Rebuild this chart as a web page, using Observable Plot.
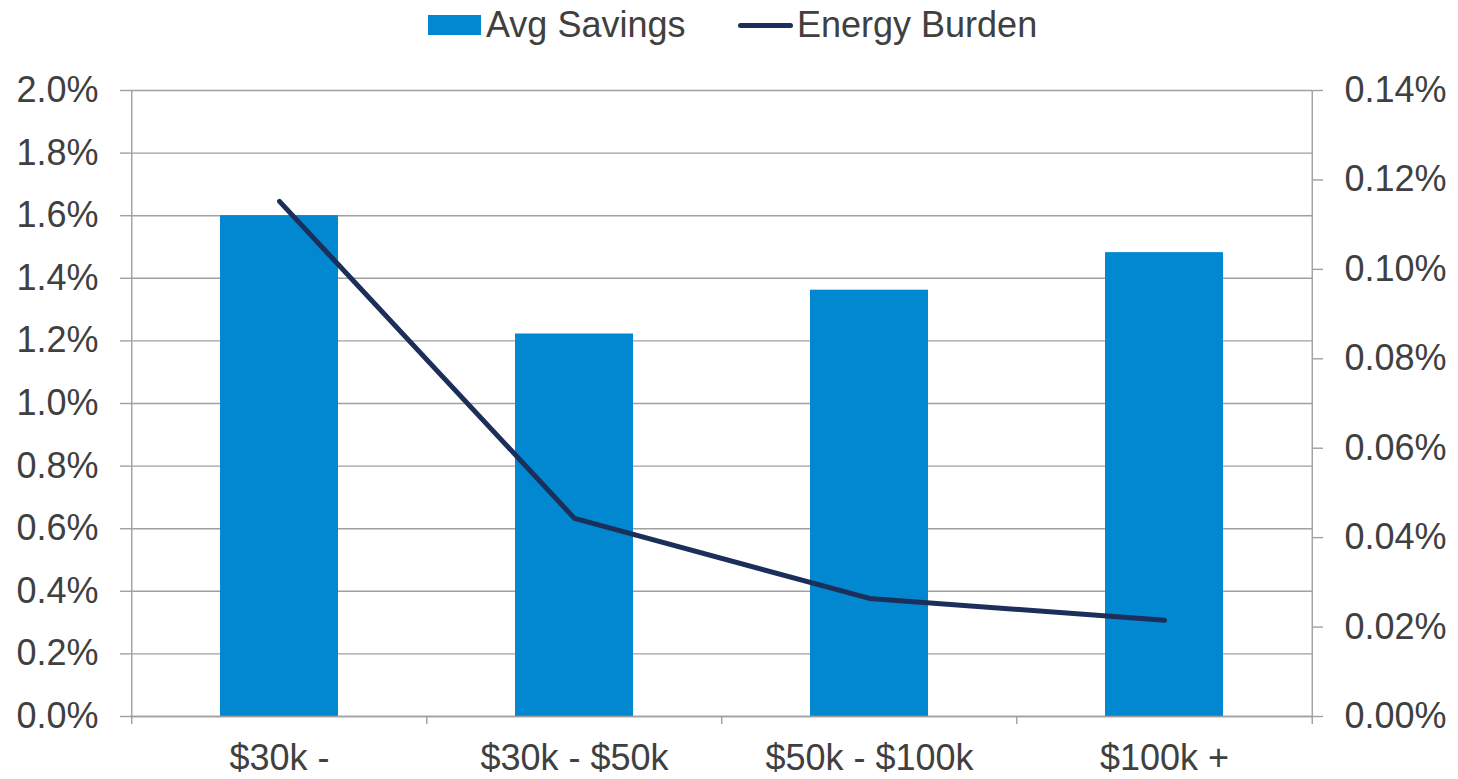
<!DOCTYPE html>
<html>
<head>
<meta charset="utf-8">
<script src="https://cdn.jsdelivr.net/npm/d3@7"></script>
<script src="https://cdn.jsdelivr.net/npm/@observablehq/plot@0.6"></script>
<style>
  html, body { margin: 0; padding: 0; background: #fff; }
  body { width: 1458px; height: 779px; overflow: hidden; font-family: "Liberation Sans", Arial, sans-serif; color: #404040; }
  #legend { position: relative; height: 60px; }
  .item { position: absolute; top: 0; height: 50px; display: flex; align-items: center; font-size: 36px; }
  .sw-bar { display: inline-block; width: 53px; height: 20px; background: #0288d1; margin-right: 5px; }
  .sw-line { display: inline-block; width: 55px; height: 5px; border-radius: 3px; background: #1b2f5a; margin-right: 4px; }
  #chart svg { display: block; }
</style>
</head>
<body>
<div id="legend">
  <div class="item" style="left:428px"><span class="sw-bar"></span><span>Avg Savings</span></div>
  <div class="item" style="left:738px"><span class="sw-line"></span><span>Energy Burden</span></div>
</div>
<div id="chart"></div>
<script>
const categories = ["$30k -", "$30k - $50k", "$50k - $100k", "$100k +"];
const avgSavings = [1.60, 1.222, 1.362, 1.482];      // percent, left axis
const energyBurden = [0.1152, 0.0443, 0.0264, 0.0215]; // percent, right axis
const leftTicks = [0, 0.2, 0.4, 0.6, 0.8, 1.0, 1.2, 1.4, 1.6, 1.8, 2.0];
const rightTicks = [0, 0.02, 0.04, 0.06, 0.08, 0.10, 0.12, 0.14];

const leftMax = 2.0, rightMax = 0.14;
const k = leftMax / rightMax;

const W = 1458, H = 719, ML = 130, MR = 146, MT = 30, MB = 63;
const step = (W - ML - MR) / categories.length;

const data = categories.map((c, i) => ({cat: c, savings: avgSavings[i], burden: energyBurden[i] * k}));

const gridColor = "#a0a0a0";
const textColor = "#404040";

const chart = Plot.plot({
  width: W, height: H,
  marginLeft: ML, marginRight: MR, marginTop: MT, marginBottom: MB,
  style: {fontFamily: "'Liberation Sans', Arial, sans-serif", fontSize: "36px", color: textColor, background: "#fff"},
  x: {type: "band", domain: categories, paddingInner: 0.6, paddingOuter: 0.3, label: null},
  y: {domain: [0, leftMax], label: null},
  marks: [
    Plot.ruleY(leftTicks, {stroke: gridColor, strokeWidth: 1.4}),
    Plot.axisY({ticks: leftTicks, tickSize: 10, tickPadding: 22, stroke: gridColor, strokeWidth: 1.4, fill: textColor, tickFormat: d => d.toFixed(1) + "%", label: null}),
    Plot.axisY({anchor: "right", ticks: rightTicks.map(v => v * k), tickSize: 10, tickPadding: 22, stroke: gridColor, strokeWidth: 1.4, fill: textColor, tickFormat: d => (d / k).toFixed(2) + "%", label: null}),
    Plot.axisX({tickSize: 0, tickPadding: 28, fill: textColor, label: null}),
    Plot.barY(data, {x: "cat", y: "savings", fill: "#0288d1"}),
    Plot.ruleX([categories[0]], {dx: -step / 2, y1: leftMax, y2: 0, insetBottom: -8, stroke: gridColor, strokeWidth: 1.4}),
    Plot.ruleX([categories[categories.length - 1]], {dx: step / 2, y1: leftMax, y2: 0, insetBottom: -8, stroke: gridColor, strokeWidth: 1.4}),
    Plot.ruleX(categories.slice(1), {dx: -step / 2, y1: 0, y2: 0, insetBottom: -8, stroke: gridColor, strokeWidth: 1.4}),
    Plot.ruleY([0], {stroke: gridColor, strokeWidth: 1.4}),
    Plot.lineY(data, {x: "cat", y: "burden", stroke: "#1b2f5a", strokeWidth: 5, strokeLinecap: "round", strokeLinejoin: "round"})
  ]
});
document.getElementById("chart").appendChild(chart);
</script>
</body>
</html>
